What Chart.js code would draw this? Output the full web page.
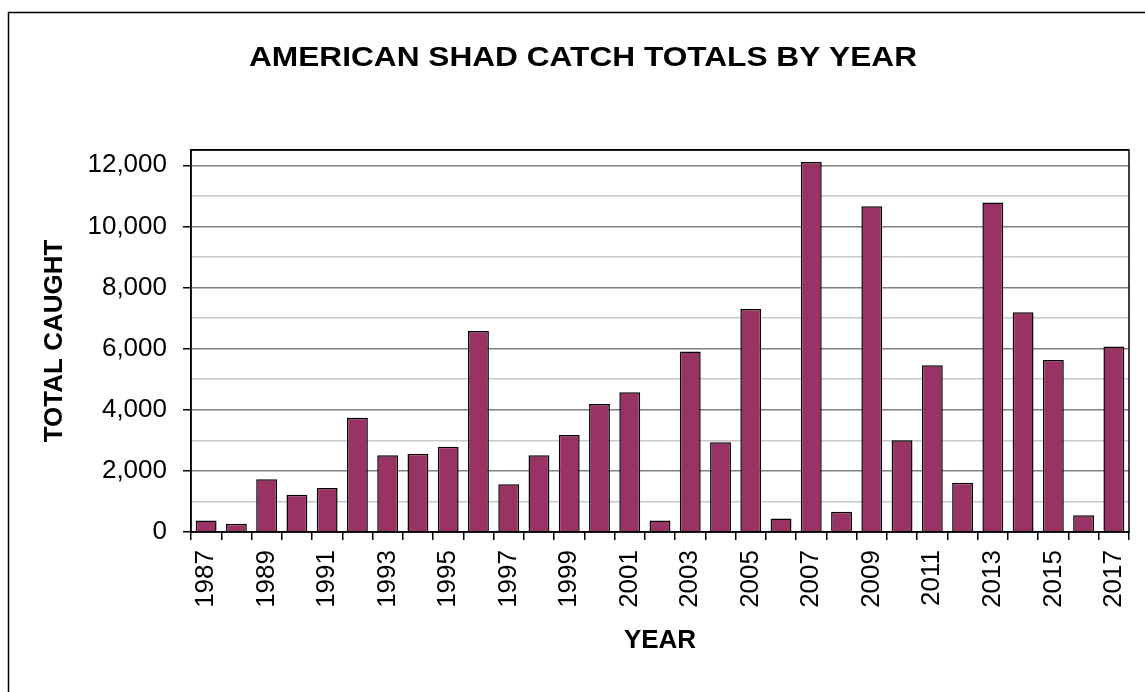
<!DOCTYPE html>
<html lang="en">
<head>
<meta charset="utf-8">
<title>American Shad catch totals by year</title>
<script src="https://cdn.jsdelivr.net/npm/chart.js@4.4.1/dist/chart.umd.min.js"></script>
<style>
  body { margin: 0; background: #fff; }
  canvas { display: block; }
</style>
</head>
<body>
<canvas id="shad-chart" width="1145" height="692"></canvas>
<script>
var years = ["1987", "1988", "1989", "1990", "1991", "1992", "1993", "1994", "1995", "1996",
             "1997", "1998", "1999", "2000", "2001", "2002", "2003", "2004", "2005", "2006",
             "2007", "2008", "2009", "2010", "2011", "2012", "2013", "2014", "2015", "2016", "2017"];
var totalCaught = [380, 270, 1730, 1220, 1440, 3740, 2510, 2560, 2790, 6580,
                   1560, 2510, 3170, 4190, 4570, 380, 5910, 2940, 7300, 440,
                   12110, 660, 10660, 3000, 5460, 1610, 10780, 7190, 5630, 550, 6070];
// major (labelled) and minor grid values; the top of the plot sits at 12,500
var yTickValues = [0, 1000, 2000, 3000, 4000, 5000, 6000, 7000, 8000, 9000, 10000, 11000, 12000, 12500];
var yTickLabels = ["0", "2,000", "4,000", "6,000", "8,000", "10,000", "12,000"];

var FONT = "'Liberation Sans', Arial, sans-serif";

// outer frame, plot box and the (slightly stretched) title
var framePlugin = {
  id: 'frame',
  afterDraw: function (chart) {
    var c = chart.ctx, a = chart.chartArea;
    c.save();
    c.strokeStyle = '#000';
    c.lineWidth = 1.5;
    c.strokeRect(8.5, 12.5, 1300, 1000);
    c.strokeRect(a.left, a.top, a.right - a.left, a.bottom - a.top);
    c.fillStyle = '#000';
    c.font = 'bold 28px ' + FONT;
    c.textAlign = 'center';
    c.textBaseline = 'middle';
    c.translate(583, 58);
    c.scale(1.13, 1);
    c.fillText('AMERICAN SHAD CATCH TOTALS BY YEAR', 0, 0);
    c.restore();
  }
};

new Chart(document.getElementById('shad-chart'), {
  type: 'bar',
  data: {
    labels: years,
    datasets: [{
      label: 'Total caught',
      data: totalCaught,
      backgroundColor: '#993366',
      borderColor: '#000',
      borderWidth: 1.5,
      barPercentage: 0.69,
      categoryPercentage: 1.0
    }]
  },
  options: {
    responsive: false,
    animation: false,
    devicePixelRatio: 1,
    layout: { padding: { left: 30, right: 16, top: 150, bottom: 20 } },
    plugins: {
      legend: { display: false },
      tooltip: { enabled: false }
    },
    scales: {
      x: {
        afterFit: function (s) {
          s.height = 140;
          s.paddingLeft = 0;
          s.paddingRight = 0;
        },
        grid: {
          offset: true,
          drawOnChartArea: false,
          color: '#000',
          tickLength: 8,
          lineWidth: 1.5
        },
        border: { color: '#000', width: 1.5 },
        ticks: {
          autoSkip: false,
          minRotation: 90,
          maxRotation: 90,
          padding: 10,
          color: '#000',
          font: { family: FONT, size: 26 },
          callback: function (v, i) { return i % 2 === 0 ? years[i] : ''; }
        },
        title: {
          display: true,
          text: 'YEAR',
          color: '#000',
          padding: { top: 0, bottom: 16 },
          font: { family: FONT, size: 26, weight: 'bold' }
        }
      },
      y: {
        min: 0,
        max: 12500,
        afterFit: function (s) { s.width = 161; },
        afterBuildTicks: function (s) {
          s.ticks = yTickValues.map(function (v) { return { value: v }; });
        },
        grid: {
          color: function (ctx) {
            var v = ctx.tick.value;
            if (v === 12500) return '#000';
            return v % 2000 === 0 ? '#808080' : '#c8c8c8';
          },
          tickColor: function (ctx) {
            var v = ctx.tick.value;
            return (v % 2000 === 0 && v <= 12000) ? '#000' : 'rgba(0,0,0,0)';
          },
          lineWidth: 1.5,
          tickLength: 8
        },
        border: { color: '#000', width: 1.5 },
        ticks: {
          autoSkip: false,
          padding: 16,
          color: '#000',
          font: { family: FONT, size: 26 },
          callback: function (v) {
            return (v % 2000 === 0 && v <= 12000) ? yTickLabels[v / 2000] : '';
          }
        },
        title: {
          display: true,
          text: 'TOTAL CAUGHT',
          color: '#000',
          padding: { top: 9, bottom: 0 },
          font: { family: FONT, size: 26, weight: 'bold' }
        }
      }
    }
  },
  plugins: [framePlugin]
});
</script>
</body>
</html>
